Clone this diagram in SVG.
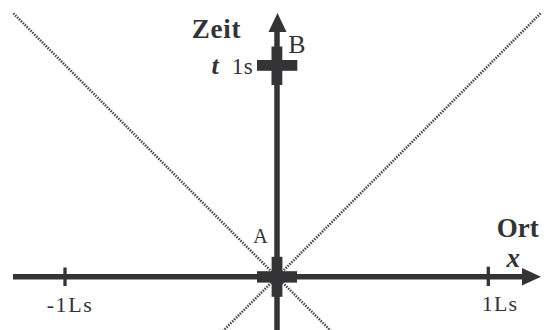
<svg xmlns="http://www.w3.org/2000/svg" width="546" height="330" viewBox="0 0 546 330">
<style>
.ax{stroke:#343436;stroke-width:5.5;fill:none}
.tk{stroke:#343436;stroke-width:3.3}
.cone{stroke:#4a4a4c;stroke-width:2.6;stroke-dasharray:1.5 1.2;fill:none}
.fill{fill:#343436}
.t{fill:#333335;font-family:'Liberation Serif','Times New Roman',serif}
.b{font-weight:bold}
.i{font-style:italic}
</style>
<rect width="546" height="330" fill="#ffffff"/>
<g id="connectors">
<line class="cone" x1="13.3" y1="13.3" x2="331" y2="331"/>
<line class="cone" x1="540.7" y1="13.3" x2="223" y2="331"/>
<line class="ax" x1="13" y1="276.8" x2="523" y2="276.8"/>
<polygon class="fill" points="522,268 541,276.8 522,285.6"/>
<line class="ax" x1="277" y1="330" x2="277" y2="30"/>
<polygon class="fill" points="268.5,32 277.5,13 286.5,32"/>
<line class="tk" x1="65" y1="267.5" x2="65" y2="286"/>
<line class="tk" x1="488.3" y1="266.7" x2="488.3" y2="286"/>
</g>
<g id="event-A">
<rect class="fill" x="257" y="271.2" width="40" height="11.4"/>
<rect class="fill" x="271.6" y="256.8" width="10.8" height="40"/>
<text class="t" x="253.3" y="243.3" font-size="20">A</text>
</g>
<g id="event-B">
<rect class="fill" x="257" y="60" width="40.3" height="10.8"/>
<rect class="fill" x="271.5" y="46.5" width="10.8" height="38.5"/>
<text class="t" x="288.3" y="53.3" font-size="26">B</text>
</g>
<g id="labels">
<text class="t b" x="191.7" y="38" font-size="27" letter-spacing="0.8">Zeit</text>
<text class="t b i" x="211.5" y="73.5" font-size="26">t</text>
<text class="t" x="231.7" y="73.5" font-size="23" letter-spacing="0.5">1s</text>
<text class="t b" x="496.7" y="236.7" font-size="27">Ort</text>
<text class="t b i" x="506.5" y="266.7" font-size="27">x</text>
<text class="t" x="46.7" y="311.7" font-size="22" letter-spacing="1.6">-1Ls</text>
<text class="t" x="481.7" y="311" font-size="22" letter-spacing="1.2">1Ls</text>
</g>
</svg>
